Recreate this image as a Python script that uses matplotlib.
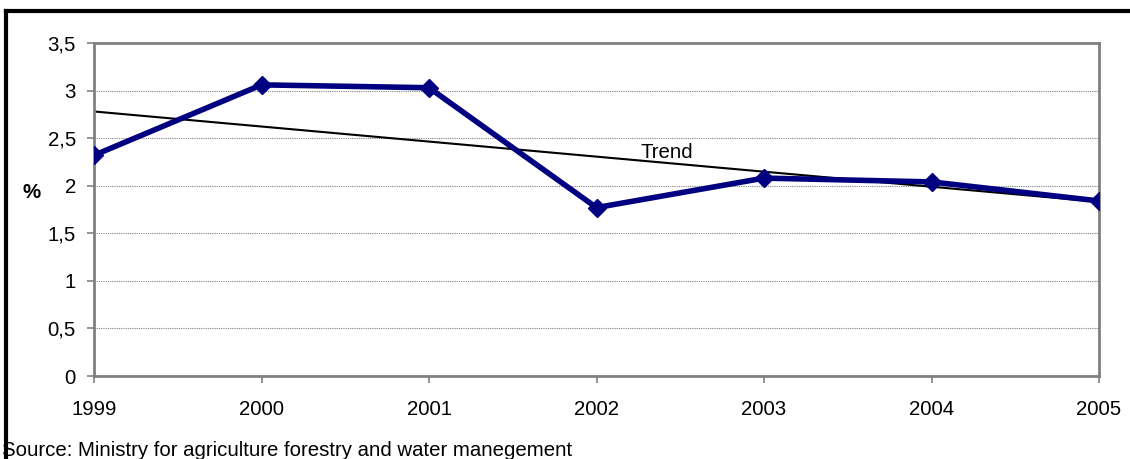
import matplotlib.pyplot as plt
import numpy as np
from matplotlib.lines import Line2D

years = [1999, 2000, 2001, 2002, 2003, 2004, 2005]
share = [2.32, 3.06, 3.03, 1.77, 2.08, 2.04, 1.84]
y_ticks = [0, 0.5, 1, 1.5, 2, 2.5, 3, 3.5]
y_labels = ["0", "0,5", "1", "1,5", "2", "2,5", "3", "3,5"]

plt.rcParams["font.family"] = ["Liberation Sans", "DejaVu Sans"]
FS = 14.7

fig = plt.figure(figsize=(11.3, 4.59), dpi=100)
ax = fig.add_axes([94 / 1130, 1 - 376 / 459, (1099 - 94) / 1130, (376 - 43) / 459])

# linear trend of the series
coef = np.polyfit(years, share, 1)
trend = np.polyval(coef, years)
ax.plot(years, trend, color="black", lw=1.5, zorder=2)
ax.plot(years, share, color="#000080", lw=4, marker="D", ms=9, zorder=3)
ax.text(2002.26, 2.35, "Trend", fontsize=FS, ha="left", va="center")

ax.set_xlim(1999, 2005)
ax.set_ylim(0, 3.5)
ax.set_xticks(years)
ax.set_xticklabels([str(y) for y in years], fontsize=FS)
ax.set_yticks(y_ticks)
ax.set_yticklabels(y_labels, fontsize=FS)
ax.tick_params(axis="both", direction="out", length=5, color="#808080", width=1.2)
ax.tick_params(axis="x", pad=12)
ax.tick_params(axis="y", pad=8)
ax.grid(axis="y", color="#808080", ls=(0, (1, 1)), lw=0.8)
for s in ax.spines.values():
    s.set_color("#808080")
    s.set_linewidth(2)
ax.set_axisbelow(True)

fig.text(32 / 1130, 1 - 192 / 459, "%", fontsize=FS, fontweight="bold", ha="center", va="center")
fig.text(2 / 1130, 1 - 451 / 459, "Source: Ministry for agriculture forestry and water manegement",
         fontsize=FS, ha="left", va="center")

# outer frame: top and left edges
fig.add_artist(Line2D([6 / 1130, 1], [1 - 11 / 459, 1 - 11 / 459], color="black", lw=3))
fig.add_artist(Line2D([6 / 1130, 6 / 1130], [0, 1 - 11 / 459], color="black", lw=3))

fig.savefig("out.png", dpi=100)
